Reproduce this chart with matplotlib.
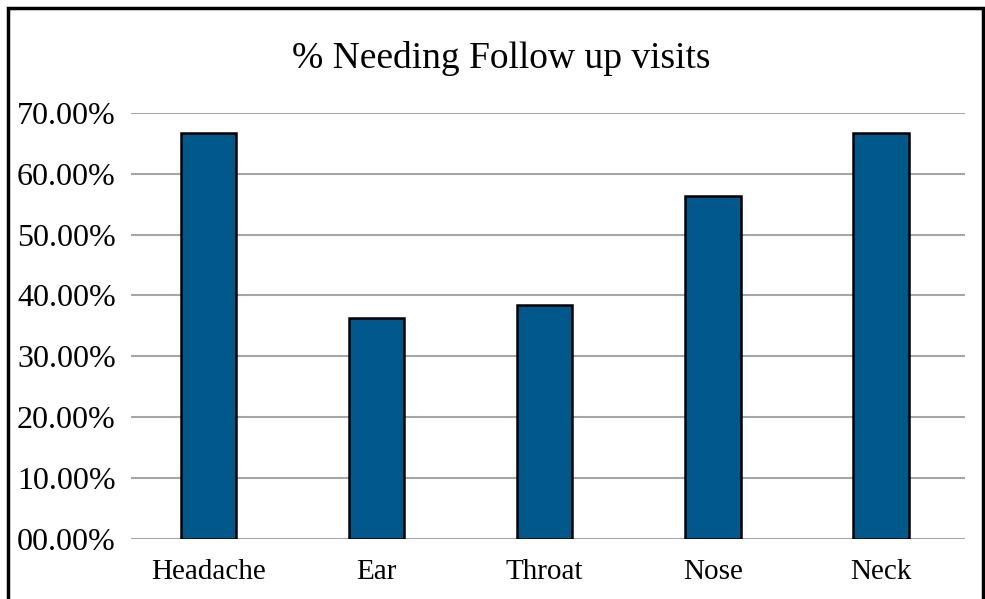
import matplotlib.pyplot as plt
from matplotlib.patches import Rectangle
from matplotlib.ticker import FuncFormatter

categories = ['Headache', 'Ear', 'Throat', 'Nose', 'Neck']
follow_up_pct = [66.67, 36.36, 38.46, 56.25, 66.67]
y_ticks = [0, 10, 20, 30, 40, 50, 60, 70]

plt.rcParams['font.family'] = ['Liberation Serif', 'DejaVu Serif']

fig = plt.figure(figsize=(9.85, 5.99), dpi=100)
ax = fig.add_axes([0.133, 0.0997, 0.8467, 0.7123])

x = range(len(categories))
ax.bar(x, follow_up_pct, width=0.33, color='#00588B', edgecolor='black',
       linewidth=1.8, zorder=3)

ax.set_ylim(0, 70)
ax.set_xlim(-0.46, 4.5)
ax.set_yticks(y_ticks)
ax.yaxis.set_major_formatter(FuncFormatter(lambda v, p: '%05.2f%%' % v))
ax.set_xticks(list(x))
ax.set_xticklabels(categories)
ax.tick_params(axis='y', length=0, pad=11, labelsize=23)
ax.tick_params(axis='x', length=0, pad=14, labelsize=21)
ax.grid(axis='y', color='#A6A6A6', linewidth=1.5, zorder=0)
for s in ax.spines.values():
    s.set_visible(False)

fig.text(0.509, 0.903, '% Needing Follow up visits', ha='center', va='center',
         fontsize=27)

# outer frame, open at the bottom
fig.patches.append(Rectangle((8 / 985, -0.1), 975 / 985, 1.1 - 8 / 599,
                             transform=fig.transFigure, fill=False,
                             edgecolor='black', linewidth=2.5))

fig.savefig('out.png', dpi=100)
